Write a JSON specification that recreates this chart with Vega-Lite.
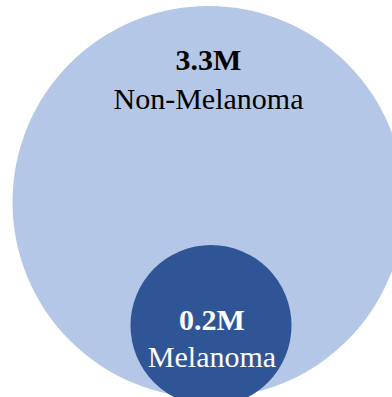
{
  "$schema": "https://vega.github.io/schema/vega-lite/v6.json",
  "width": 392,
  "height": 397,
  "autosize": "none",
  "padding": 0,
  "background": "white",
  "config": {"view": {"stroke": null}},
  "data": {
    "values": [
      {"group": "Non-Melanoma", "value": 3.3, "cx": 208.5, "cy": 195, "labelX": 208.5, "valueY": 327, "nameY": 288},
      {"group": "Melanoma", "value": 0.2, "cx": 211, "cy": 71.5, "labelX": 212, "valueY": 67.5, "nameY": 30}
    ]
  },
  "transform": [
    {"calculate": "format(datum.value, '.1f') + 'M'", "as": "valueLabel"}
  ],
  "layer": [
    {
      "mark": {"type": "point", "shape": "circle", "filled": true, "opacity": 1, "strokeWidth": 0},
      "encoding": {
        "x": {"field": "cx", "type": "quantitative", "scale": {"domain": [0, 392]}, "axis": null},
        "y": {"field": "cy", "type": "quantitative", "scale": {"domain": [0, 397]}, "axis": null},
        "size": {"field": "value", "type": "quantitative", "scale": {"type": "linear", "zero": false, "domain": [0.2, 3.3], "range": [25921, 153664]}, "legend": null},
        "color": {"field": "group", "type": "nominal", "scale": {"domain": ["Non-Melanoma", "Melanoma"], "range": ["#B4C7E7", "#2F5597"]}, "legend": null},
        "order": {"field": "value", "sort": "descending"}
      }
    },
    {
      "mark": {"type": "text", "align": "center", "baseline": "alphabetic", "font": "Liberation Serif", "fontSize": 30, "fontWeight": "bold"},
      "encoding": {
        "x": {"field": "labelX", "type": "quantitative", "scale": {"domain": [0, 392]}, "axis": null},
        "y": {"field": "valueY", "type": "quantitative", "scale": {"domain": [0, 397]}, "axis": null},
        "text": {"field": "valueLabel", "type": "nominal"},
        "color": {"field": "group", "type": "nominal", "scale": {"domain": ["Non-Melanoma", "Melanoma"], "range": ["#000000", "#FFFFFF"]}, "legend": null}
      }
    },
    {
      "mark": {"type": "text", "align": "center", "baseline": "alphabetic", "font": "Liberation Serif", "fontSize": 30},
      "encoding": {
        "x": {"field": "labelX", "type": "quantitative", "scale": {"domain": [0, 392]}, "axis": null},
        "y": {"field": "nameY", "type": "quantitative", "scale": {"domain": [0, 397]}, "axis": null},
        "text": {"field": "group", "type": "nominal"},
        "color": {"field": "group", "type": "nominal", "scale": {"domain": ["Non-Melanoma", "Melanoma"], "range": ["#000000", "#FFFFFF"]}, "legend": null}
      }
    }
  ],
  "resolve": {"scale": {"color": "independent"}}
}
